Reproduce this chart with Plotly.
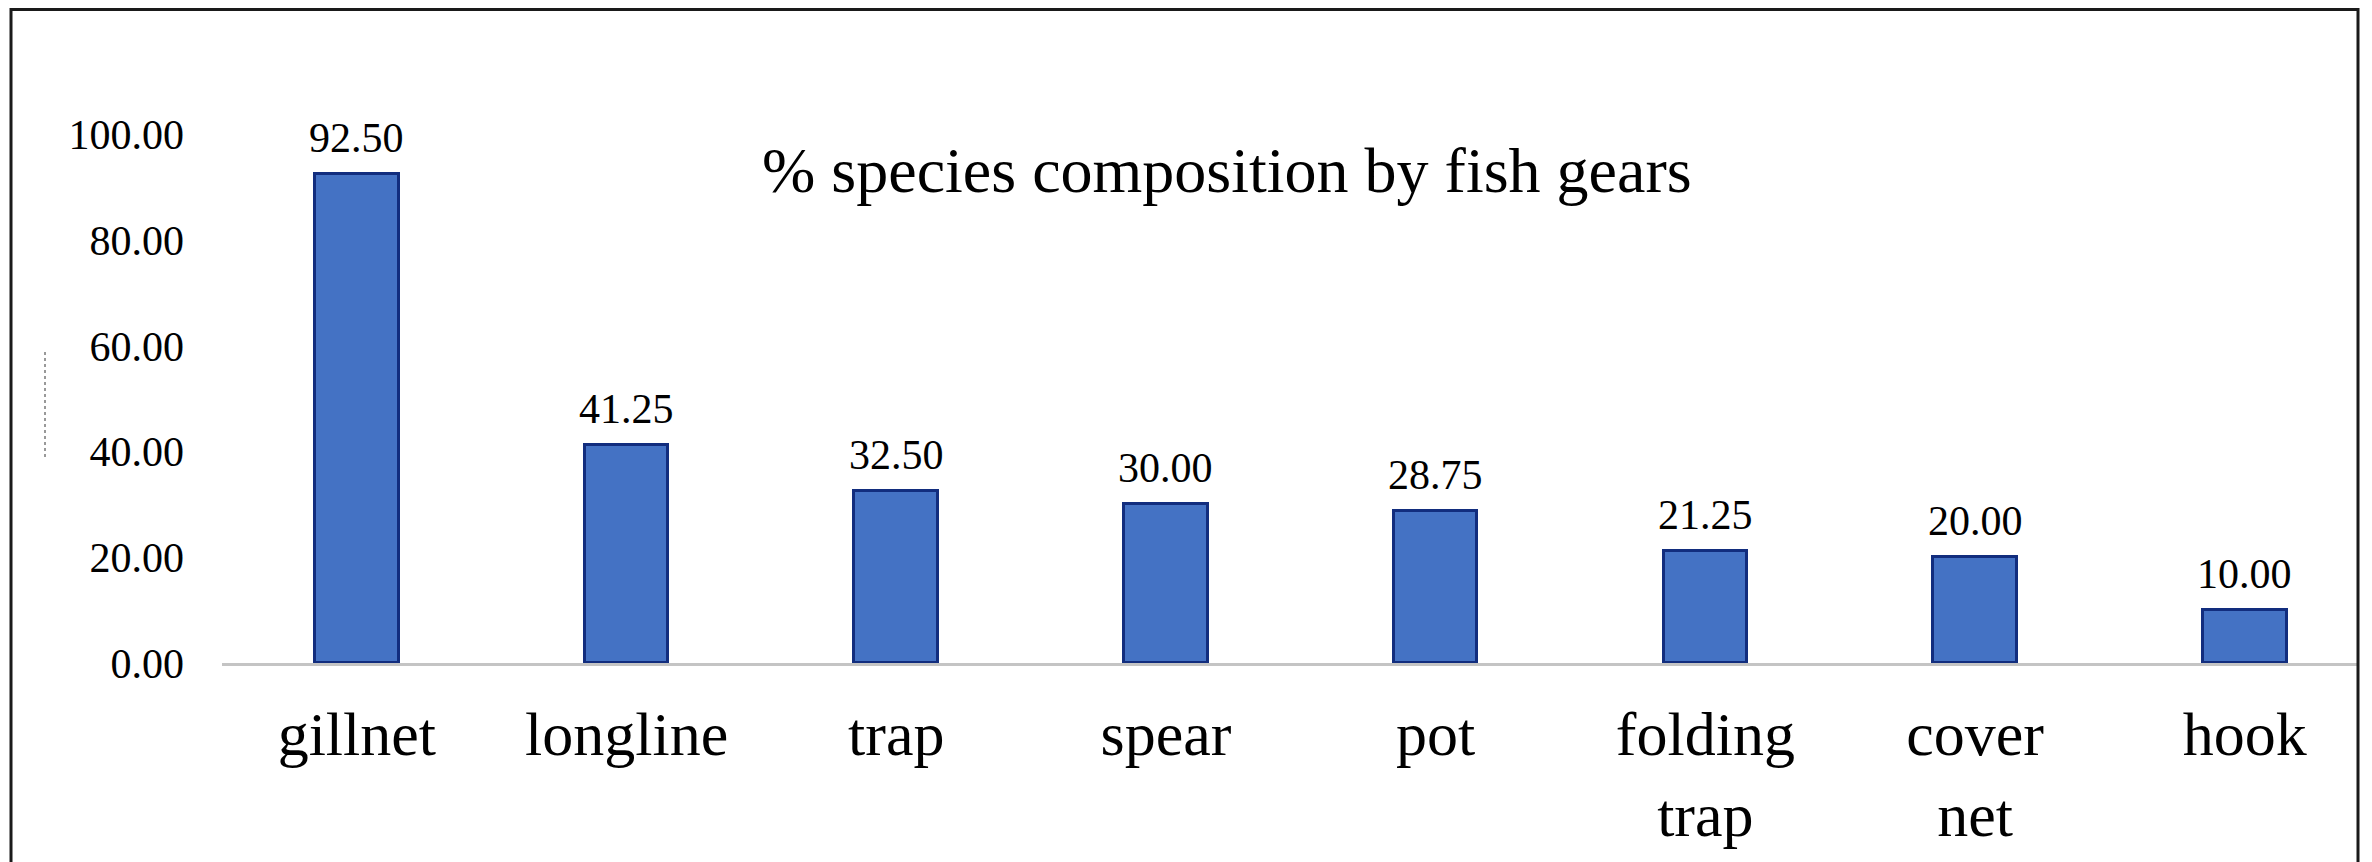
import plotly.graph_objects as go

categories = ["gillnet", "longline", "trap", "spear", "pot", "folding<br>trap", "cover<br>net", "hook"]
values = [92.50, 41.25, 32.50, 30.00, 28.75, 21.25, 20.00, 10.00]
y_ticks = [0, 20, 40, 60, 80, 100]
y_tick_labels = ["0.00", "20.00", "40.00", "60.00", "80.00", "100.00"]
title_text = "% species composition by fish gears"

# The page body adds an 8px margin, so the figure is drawn 8px in from the window edge.
OFF = 8
W, H = 2372 - OFF, 862 - OFF
PLOT_L, PLOT_R, PLOT_T, PLOT_B = 222 - OFF, 2358 - OFF, 108 - OFF, 663 - OFF
ML, MR, MT, MB = PLOT_L, W - PLOT_R, PLOT_T, H - PLOT_B
FONT = "Liberation Serif, Times New Roman, serif"

fig = go.Figure()
fig.add_trace(go.Bar(
    x=list(range(len(categories))),
    y=values,
    width=0.31,
    marker=dict(color="#4472C4", line=dict(color="#122D7E", width=3)),
    hoverinfo="skip",
))

for i, v in enumerate(values):
    fig.add_annotation(
        x=i, y=v, text=f"{v:.2f}", showarrow=False,
        yanchor="bottom", yshift=11,
        font=dict(family=FONT, size=42, color="#000"),
    )

pw = W - ML - MR
ph = H - MT - MB

def px_x(p):
    # p: screenshot pixel
    return (p - OFF - ML) / pw

def px_y(p):
    return (H - MB - (p - OFF)) / ph

# title
fig.add_annotation(
    xref="paper", yref="paper", x=px_x(1227), y=px_y(170),
    text=title_text, showarrow=False, xanchor="center", yanchor="middle",
    font=dict(family=FONT, size=64, color="#000"),
)

# outer border (top edge clamped inside the figure)
fig.add_shape(type="rect", xref="paper", yref="paper",
              x0=px_x(11), x1=px_x(2358), y0=px_y(880), y1=px_y(OFF + 1.5),
              line=dict(color="#1a1a1a", width=3), fillcolor="rgba(0,0,0,0)",
              layer="above")
# faint dotted remnant on the left
fig.add_shape(type="line", xref="paper", yref="paper",
              x0=px_x(45), x1=px_x(45), y0=px_y(352), y1=px_y(458),
              line=dict(color="#999", width=2, dash="dot"))

fig.update_layout(
    width=W, height=H,
    margin=dict(l=ML, r=MR, t=MT, b=MB, pad=0),
    paper_bgcolor="white", plot_bgcolor="white",
    showlegend=False,
    bargap=0,
    xaxis=dict(
        range=[-0.5, 7.42],
        automargin=False,
        tickmode="array",
        tickvals=list(range(len(categories))),
        ticktext=categories,
        showgrid=False, zeroline=False,
        showline=True, linecolor="#C4C4C4", linewidth=3,
        ticks="", ticklabelstandoff=15,
        tickfont=dict(family=FONT, size=62, color="#000"),
    ),
    yaxis=dict(
        range=[0, 105],
        automargin=False,
        tickmode="array", tickvals=y_ticks, ticktext=y_tick_labels,
        showgrid=False, zeroline=False, showline=False,
        ticks="", ticklabelstandoff=37,
        tickfont=dict(family=FONT, size=42, color="#000"),
    ),
)

fig.write_html("out.html")
